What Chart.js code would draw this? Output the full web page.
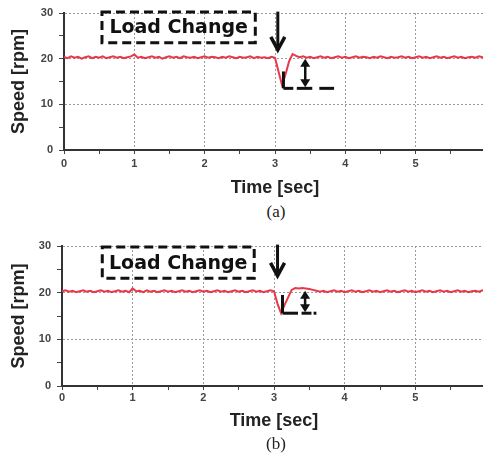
<!DOCTYPE html>
<html>
<head>
<meta charset="utf-8">
<script src="https://cdn.jsdelivr.net/npm/chart.js@4"></script>
<style>
  body { margin: 0; width: 483px; height: 460px; overflow: hidden; background: #fff; position: relative; }
  .panel { position: absolute; left: 0; }
  .cap { position: absolute; left: 226px; width: 100px; text-align: center; font: 17px "Liberation Serif", serif; line-height: 20px; color: #222; }
</style>
</head>
<body>
<div class="panel" style="top:0"><canvas id="chartA" width="500" height="200"></canvas></div>
<div class="cap" style="top:202px">(a)</div>
<div class="panel" style="top:230px"><canvas id="chartB" width="500" height="206"></canvas></div>
<div class="cap" style="top:434px">(b)</div>
<script>
// sample grid, 0.05 s
const timeSec = Array.from({ length: 121 }, (_, i) => +(i * 0.05).toFixed(2));

const speedA = [
  20.4, 20.1, 20.5, 20.2, 20.4, 20.0, 20.3, 20.5, 20.1, 20.4,
  20.2, 20.5, 20.1, 20.3, 20.5, 20.2, 20.4, 20.1, 20.3, 20.5,
  20.9, 20.2, 20.4, 20.1, 20.3, 20.5, 20.2, 20.4, 20.0, 20.3,
  20.5, 20.2, 20.4, 20.1, 20.5, 20.3, 20.2, 20.4, 20.1, 20.3,
  20.5, 20.2, 20.4, 20.3, 20.1, 20.4, 20.2, 20.5, 20.3, 20.1,
  20.4, 20.2, 20.3, 20.5, 20.1, 20.4, 20.2, 20.3, 20.1, 20.4,
  20.2,
  17.2, 14.2, 16.6, 19.4, 21.0, 20.6, 20.3, 20.5, 20.2, 20.4,
  20.1, 20.3, 20.5, 20.2, 20.4, 20.1, 20.3, 20.5, 20.2, 20.4,
  20.1, 20.3, 20.5, 20.2, 20.4, 20.3, 20.1, 20.4, 20.2, 20.5,
  20.3, 20.1, 20.4, 20.2, 20.3, 20.5, 20.2, 20.4, 20.1, 20.3,
  20.5, 20.2, 20.4, 20.1, 20.3, 20.5, 20.2, 20.4, 20.1, 20.3,
  20.5, 20.2, 20.4, 20.1, 20.3, 20.4, 20.2, 20.5, 20.3, 20.2,
];

const speedB = [
  20.3, 20.5, 20.2, 20.4, 20.1, 20.3, 20.5, 20.2, 20.4, 20.1,
  20.3, 20.5, 20.2, 20.4, 20.1, 20.3, 20.5, 20.2, 20.4, 20.1,
  20.9, 20.3, 20.4, 20.1, 20.5, 20.2, 20.4, 20.1, 20.3, 20.5,
  20.2, 20.4, 20.1, 20.3, 20.5, 20.2, 20.4, 20.1, 20.3, 20.5,
  20.2, 20.4, 20.1, 20.3, 20.5, 20.2, 20.4, 20.1, 20.3, 20.5,
  20.2, 20.4, 20.1, 20.3, 20.5, 20.2, 20.4, 20.1, 20.3, 20.5,
  20.3,
  17.6, 15.6, 17.4, 19.0, 20.6, 21.0, 20.9, 21.0, 20.9, 20.8,
  20.6, 20.4,
  20.2, 20.4, 20.1, 20.3, 20.5, 20.2, 20.4, 20.1,
  20.3, 20.5, 20.2, 20.4, 20.1, 20.3, 20.5, 20.2, 20.4, 20.1,
  20.3, 20.5, 20.2, 20.4, 20.1, 20.3, 20.5, 20.2, 20.4, 20.1,
  20.3, 20.5, 20.2, 20.4, 20.1, 20.3, 20.5, 20.2, 20.4, 20.1,
  20.3, 20.5, 20.2, 20.4, 20.1, 20.3, 20.4, 20.2, 20.5, 20.3,
];

// annotation marks, in data units
const marksA = {
  box: [0.54, 2.72, 23.5, 30.2],
  label: "Load Change",
  arrow: [3.04, 30.3, 21.7],
  corner: [3.12, 17.2, 13.5],
  dashes: [[3.12, 3.26], [3.31, 3.53], [3.63, 3.84]],
  span: [3.43, 20.0, 13.5],
};
const marksB = {
  box: [0.57, 2.72, 23.1, 29.8],
  label: "Load Change",
  arrow: [3.05, 30.3, 23.4],
  corner: [3.12, 19.5, 15.6],
  dashes: [[3.12, 3.34], [3.39, 3.53], [3.56, 3.6]],
  span: [3.44, 20.4, 15.6],
};

const annotate = {
  id: "annotate",
  afterDatasetsDraw(chart, args, m) {
    const { ctx, scales: { x, y } } = chart;
    const px = (v) => x.getPixelForValue(v);
    const py = (v) => y.getPixelForValue(v);
    ctx.save();
    ctx.strokeStyle = "#111";
    ctx.fillStyle = "#111";

    // dashed label box
    const [bx0, bx1, by0, by1] = m.box;
    ctx.lineWidth = 3;
    ctx.setLineDash([9, 5]);
    ctx.strokeRect(px(bx0), py(by1), px(bx1) - px(bx0), py(by0) - py(by1));
    ctx.setLineDash([]);
    ctx.font = "bold 19px 'DejaVu Sans'";
    ctx.textAlign = "center";
    ctx.textBaseline = "middle";
    ctx.fillText(m.label, (px(bx0) + px(bx1)) / 2, (py(by0) + py(by1)) / 2 + 1);

    // load change arrow
    const [ax, ay0, ay1] = m.arrow;
    ctx.lineWidth = 3;
    ctx.beginPath();
    ctx.moveTo(px(ax), py(ay0));
    ctx.lineTo(px(ax), py(ay1) - 2);
    ctx.stroke();
    ctx.lineWidth = 3.5;
    ctx.beginPath();
    ctx.moveTo(px(ax) - 7, py(ay1) - 14);
    ctx.lineTo(px(ax), py(ay1) - 1);
    ctx.lineTo(px(ax) + 7, py(ay1) - 14);
    ctx.stroke();

    // corner and dashed floor
    const [cx, cy0, cy1] = m.corner;
    ctx.lineWidth = 3;
    ctx.beginPath();
    ctx.moveTo(px(cx), py(cy0));
    ctx.lineTo(px(cx), py(cy1));
    ctx.stroke();
    m.dashes.forEach(([d0, d1]) => {
      ctx.beginPath();
      ctx.moveTo(px(d0), py(cy1));
      ctx.lineTo(px(d1), py(cy1));
      ctx.stroke();
    });

    // double arrow
    const [sx, sy0, sy1] = m.span;
    const top = py(sy0), bot = py(sy1), xs = px(sx);
    ctx.lineWidth = 2.5;
    ctx.beginPath();
    ctx.moveTo(xs, top + 4);
    ctx.lineTo(xs, bot - 4);
    ctx.stroke();
    ctx.beginPath();
    ctx.moveTo(xs, top);
    ctx.lineTo(xs - 5, top + 8);
    ctx.lineTo(xs + 5, top + 8);
    ctx.closePath();
    ctx.fill();
    ctx.beginPath();
    ctx.moveTo(xs, bot - 1);
    ctx.lineTo(xs - 5, bot - 9);
    ctx.lineTo(xs + 5, bot - 9);
    ctx.closePath();
    ctx.fill();
    ctx.restore();
  },
};

function makeChart(id, values, marks, pad) {
  const tickFont = { family: "Liberation Sans", size: 11, weight: "bold" };
  const titleFont = { family: "Liberation Sans", size: 18, weight: "bold" };
  return new Chart(document.getElementById(id), {
    type: "line",
    data: {
      datasets: [
        {
          data: values.map((v, i) => ({ x: timeSec[i], y: v })),
          borderColor: "#e63a48",
          borderWidth: 2,
          pointRadius: 0,
          tension: 0,
        },
      ],
    },
    plugins: [annotate],
    options: {
      responsive: false,
      animation: false,
      events: [],
      layout: { padding: { left: 0, right: 14, top: pad.top, bottom: 0 } },
      plugins: {
        legend: { display: false },
        tooltip: { enabled: false },
        annotate: marks,
      },
      scales: {
        x: {
          type: "linear",
          min: 0,
          max: 6,
          afterFit: (s) => { s.height = 50; },
          ticks: {
            stepSize: 0.5,
            autoSkip: false,
            maxRotation: 0,
            padding: pad.xTick,
            color: "#444",
            font: tickFont,
            callback: (v) => (Number.isInteger(v) ? v : ""),
          },
          grid: {
            color: (c) => (c.tick && Number.isInteger(c.tick.value) ? "#9a9a9a" : "transparent"),
            tickColor: "#444",
            tickLength: 4,
            lineWidth: 1,
          },
          border: { color: "#333", width: 2, dash: [2, 2] },
          title: {
            display: true,
            text: "Time [sec]",
            color: "#222",
            font: titleFont,
            padding: { top: 0, bottom: pad.xTitle },
          },
        },
        y: {
          min: 0,
          max: 30,
          afterFit: (s) => { s.width = pad.left; },
          ticks: {
            stepSize: 5,
            padding: 6,
            color: "#444",
            font: tickFont,
            callback: (v) => (v % 10 === 0 ? v : ""),
          },
          grid: {
            color: (c) => (c.tick && c.tick.value % 10 === 0 ? "#9a9a9a" : "transparent"),
            tickColor: "#444",
            tickLength: 5,
            lineWidth: 1,
          },
          border: { color: "#333", width: 2, dash: [2, 2] },
          title: {
            display: true,
            text: "Speed [rpm]",
            color: "#222",
            font: titleFont,
            padding: { top: 8, bottom: 0 },
          },
        },
      },
    },
  });
}

makeChart("chartA", speedA, marksA, { top: 13, left: 64, xTick: 3, xTitle: 1 });
makeChart("chartB", speedB, marksB, { top: 16, left: 62, xTick: 1, xTitle: 4 });
</script>
</body>
</html>
